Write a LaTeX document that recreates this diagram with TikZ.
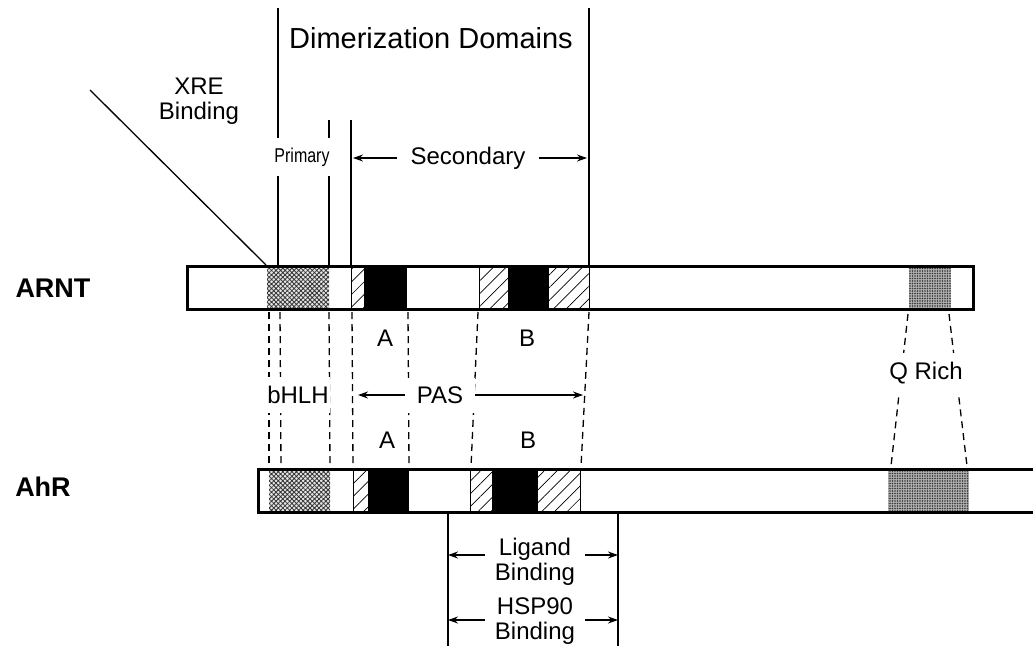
\documentclass[tikz,border=0pt]{standalone}
\usepackage{fontspec}
\setmainfont{Liberation Sans}
\usetikzlibrary{arrows.meta, patterns, patterns.meta, positioning}

\begin{document}
\begin{tikzpicture}[x=1pt, y=-1pt, >={Stealth[length=10pt,width=7pt]},
    lbl/.style={font=\fontsize{24}{25}\selectfont, inner sep=1pt, align=center},
    protlbl/.style={font=\bfseries\fontsize{27}{28}\selectfont},
    bar/.style={line width=3pt},
    hatched/.style={draw, line width=0.6pt, pattern={Lines[angle=45,distance=9pt,line width=0.7pt]}},
    core/.style={fill=black},
    hlh/.style={fill=gray!20, postaction={pattern={Hatch[angle=45,distance=3.2pt,line width=0.8pt]}, pattern color=black!80}},
    qrich/.style={fill=gray!60, postaction={pattern={Dots[distance=2.5pt,radius=0.8pt]}, pattern color=black!80}},
    guide/.style={line width=1.3pt, dash pattern=on 7pt off 5pt},
    rule/.style={line width=1.3pt}]

\clip (0,0) rectangle (1033,646);

% ARNT bar
\path[hlh] (267,266) rectangle (329,309);
\path[hatched] (351,266) rectangle (364,309);
\path[core] (364,266) rectangle (407,309);
\path[hatched] (479,266) rectangle (508,309);
\path[core] (508,266) rectangle (548,309);
\path[hatched] (548,266) rectangle (589,309);
\path[qrich] (909,266) rectangle (951,309);
\draw[bar] (187.5,266) rectangle (973.5,309);

% AhR bar
\path[hlh] (269,469) rectangle (330,512);
\path[hatched] (353,469) rectangle (368,512);
\path[core] (368,469) rectangle (409,512);
\path[hatched] (470,469) rectangle (492,512);
\path[core] (492,469) rectangle (537,512);
\path[hatched] (537,469) rectangle (580,512);
\path[qrich] (888,469) rectangle (969,512);
\draw[bar] (258.5,469) rectangle (1045,512);

\node[protlbl] (arnt) at (53,288) {ARNT};
\node[protlbl] (ahr) at (43,487) {AhR};

% dashed guides between the bars
\foreach \i/\u/\l in {1/269/269, 2/280/281, 3/329/330, 4/352/353, 5/408/409, 6/478/471, 7/589/581}
  {\coordinate (u\i) at (\u,312);
   \coordinate (l\i) at (\l,467);
   \draw[guide] (u\i) -- (l\i);}
\coordinate (uq1) at (908,314);
\coordinate (lq1) at (891,466);
\coordinate (uq2) at (949,314);
\coordinate (lq2) at (967,466);
\draw[guide] (uq1) -- (lq1);
\draw[guide] (uq2) -- (lq2);

\node[lbl] (ta) at (385,338) {A};
\node[lbl] (tb) at (527,338) {B};
\node[lbl] (ba) at (387,440) {A};
\node[lbl] (bb) at (528,440) {B};
\node[lbl, fill=white, inner ysep=9pt] (hlhlbl) at (298,395) {bHLH};
\node[lbl, fill=white, inner xsep=12pt, inner ysep=9pt] (pas) at (440,395) {PAS};
\coordinate (pasl) at (358,395);
\coordinate (pasr) at (583,395);
\draw[->, rule] (pas.west) -- (pasl);
\draw[->, rule] (pas.east) -- (pasr);
\node[lbl, fill=white, inner ysep=9pt, inner xsep=3pt] (qlbl) at (926,373) {Q Rich};

% dimerization domains
\coordinate (d1) at (278,8);
\coordinate (d2) at (589,8);
\coordinate (p1) at (329,120);
\coordinate (p2) at (351,120);
\draw[rule] (d1) -- (278,264.5);
\draw[rule] (d2) -- (589,264.5);
\draw[rule] (p1) -- (329,264.5);
\draw[rule] (p2) -- (351,264.5);
\node[lbl, font=\fontsize{29}{30}\selectfont] (dimer) at (431,38) {Dimerization Domains};
\node[lbl, fill=white, inner xsep=0pt, inner ysep=10pt] (prim) at (302,157)
  {\fontsize{20}{21}\selectfont\scalebox{0.8}[1]{Primary}};
\node[lbl, inner xsep=13pt] (sec) at (468,158) {Secondary};
\coordinate (secl) at (353,158);
\coordinate (secr) at (587,158);
\draw[->, rule] (sec.west) -- (secl);
\draw[->, rule] (sec.east) -- (secr);

% XRE binding
\node[lbl] (xre) at (199,101) {XRE\\Binding};
\coordinate (xtail) at (90,90);
\coordinate (xhead) at (266,265);
\draw[rule] (xtail) -- (xhead);

% ligand / HSP90 binding
\coordinate (g1) at (448,514);
\coordinate (g2) at (618,514);
\draw[rule] (g1) -- (448,646);
\draw[rule] (g2) -- (618,646);
\node[lbl, inner xsep=10pt] (lig) at (535,562) {Ligand\\Binding};
\node[lbl, inner xsep=10pt] (hsp) at (535,621) {HSP90\\Binding};
\coordinate (ll) at (448,555);
\coordinate (lr) at (618,555);
\coordinate (hl) at (448,620);
\coordinate (hr) at (618,620);
\draw[->, rule] (ll -| lig.west) -- (ll);
\draw[->, rule] (lr -| lig.east) -- (lr);
\draw[->, rule] (hl -| hsp.west) -- (hl);
\draw[->, rule] (hr -| hsp.east) -- (hr);
\end{tikzpicture}
\end{document}
